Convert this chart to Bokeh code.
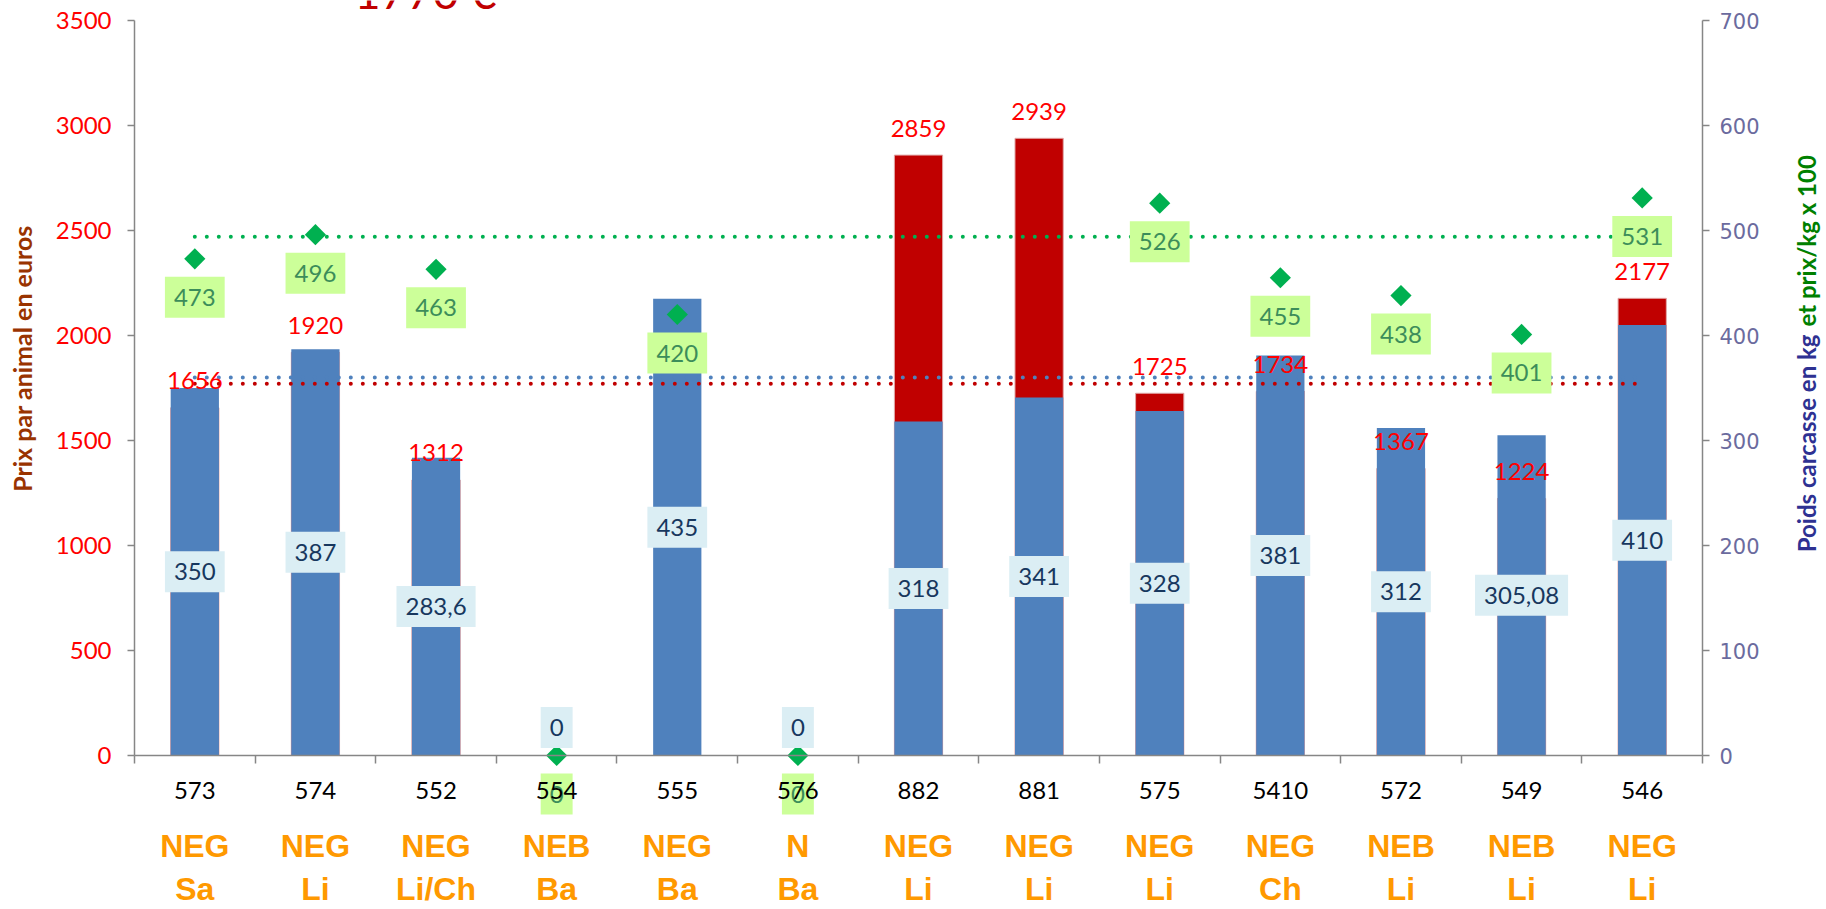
import math
from bokeh.plotting import figure
from bokeh.models import Range1d, LinearAxis, FixedTicker, Label, ColumnDataSource
from bokeh.core.properties import value
from bokeh.embed import file_html
from bokeh.resources import INLINE

# ---------------- data ----------------
codes = ["573", "574", "552", "554", "555", "576", "882", "881", "575", "5410", "572", "549", "546"]
breed_line1 = ["NEG", "NEG", "NEG", "NEB", "NEG", "N", "NEG", "NEG", "NEG", "NEG", "NEB", "NEB", "NEG"]
breed_line2 = ["Sa", "Li", "Li/Ch", "Ba", "Ba", "Ba", "Li", "Li", "Li", "Ch", "Li", "Li", "Li"]
carcass_weight = [350, 387, 283.6, 0, 435, 0, 318, 341, 328, 381, 312, 305.08, 410]
price_animal = [1656, 1920, 1312, None, None, None, 2859, 2939, 1725, 1734, 1367, 1224, 2177]
price_per_kg_x100 = [473, 496, 463, 0, 420, 0, None, None, 526, 455, 438, 401, 531]
mean_price = 1770
mean_weight = 360
mean_price_per_kg = 494
left_ticks = [0, 500, 1000, 1500, 2000, 2500, 3000, 3500]
right_ticks = [0, 100, 200, 300, 400, 500, 600, 700]
LEFT_MAX, RIGHT_MAX = 3500, 700

# ---------------- layout (canvas pixels) ----------------
W, H = 1826, 909
PL, PR, PT, PB = 134, 1702, 20, 755      # plotting area of the value axes
N = len(codes)
PX = (PR - PL) / N
PY = (PB - PT) / LEFT_MAX
PYR = (PB - PT) / RIGHT_MAX
FONT = "Lato"


def xd(cx):
    return (cx - PL) / PX


def yd(cy):
    return (PB - cy) / PY


def ydr(cy):
    return (PB - cy) / PYR


nan = float("nan")
xs = [i + 0.5 for i in range(N)]
src = ColumnDataSource(dict(
    x=xs,
    weight=carcass_weight,
    price=[nan if v is None else v for v in price_animal],
    ppk=[nan if v is None else v for v in price_per_kg_x100],
))

p = figure(width=W, height=H, output_backend="svg", toolbar_location=None,
           x_range=Range1d(xd(0), xd(W)), y_range=Range1d(yd(H), yd(0)),
           min_border_left=0, min_border_right=0, min_border_top=0, min_border_bottom=0)
p.extra_y_ranges = {"right": Range1d(ydr(H), ydr(0))}
p.xgrid.visible = False
p.ygrid.visible = False
p.outline_line_color = None
p.background_fill_color = "white"
p.border_fill_color = "white"

AX = "#868686"

# x axis: labels at category centres, marks at boundaries
xa = p.xaxis[0]
xa.fixed_location = 0
xa.bounds = (0, N)
xa.ticker = FixedTicker(ticks=xs, minor_ticks=list(range(N + 1)))
xa.major_label_overrides = {x: c for x, c in zip(xs, codes)}
xa.major_tick_out = 0
xa.major_tick_in = 0
xa.minor_tick_out = 8
xa.minor_tick_in = 0
xa.axis_line_color = AX
xa.axis_line_width = 1.5
xa.minor_tick_line_color = AX
xa.minor_tick_line_width = 1.5
xa.major_label_text_font = FONT
xa.major_label_text_font_size = "24px"
xa.major_label_text_color = "black"
xa.major_label_standoff = 18

# left axis
ya = p.yaxis[0]
ya.fixed_location = 0
ya.bounds = (0, LEFT_MAX)
ya.ticker = FixedTicker(ticks=left_ticks)
ya.major_tick_out = 7
ya.major_tick_in = 0
ya.minor_tick_out = 0
ya.minor_tick_in = 0
ya.axis_line_color = AX
ya.axis_line_width = 1.5
ya.major_tick_line_color = AX
ya.major_tick_line_width = 1.5
ya.major_label_text_font = FONT
ya.major_label_text_font_size = "24px"
ya.major_label_text_color = "#ff0000"
ya.major_label_standoff = 16

# right axis
ra = LinearAxis(y_range_name="right", ticker=FixedTicker(ticks=right_ticks),
                fixed_location=N, bounds=(0, RIGHT_MAX))
ra.major_tick_out = 7
ra.major_tick_in = 0
ra.minor_tick_out = 0
ra.minor_tick_in = 0
ra.axis_line_color = AX
ra.axis_line_width = 1.5
ra.major_tick_line_color = AX
ra.major_tick_line_width = 1.5
ra.major_label_text_font = "DejaVu Sans"
ra.major_label_text_font_size = "21px"
ra.major_label_text_color = "#6b6b9e"
ra.major_label_standoff = 10
p.add_layout(ra, "right")

# bars
p.vbar(x="x", top="price", width=0.4, source=src,
       fill_color="#c00000", line_color="#e0a8a8", line_width=1)
p.vbar(x="x", top="weight", width=0.4, source=src, y_range_name="right",
       fill_color="#4f81bd", line_color=None)

# mean lines (dotted)
line_x = [xs[0], xs[-1]]
p.line(x=line_x, y=[mean_weight] * 2, y_range_name="right", line_color="#4f81bd",
       line_width=4, line_dash="0 12", line_cap="round")
p.line(x=line_x, y=[mean_price] * 2, line_color="#c00000",
       line_width=4, line_dash="0 12", line_cap="round")
p.line(x=line_x, y=[mean_price_per_kg] * 2, y_range_name="right", line_color="#00b050",
       line_width=4, line_dash="0 12", line_cap="round")

# price per kg markers
p.scatter(x="x", y="ppk", source=src, y_range_name="right", marker="square",
          angle=math.pi / 4, size=15, fill_color="#00b050", line_color=None)

# red price labels
for x, v in zip(xs, price_animal):
    if v is None:
        continue
    p.add_layout(Label(x=x, y=v + 27 / PY, text=str(v), text_align="center",
                       text_baseline="middle", text_font=FONT, text_font_size="24px",
                       text_color="#ff0000"))

# weight labels (boxes)
for x, v in zip(xs, carcass_weight):
    t = f"{v:g}".replace(".", ",")
    p.add_layout(Label(x=x, y=max(v / 2.0, 28 / PYR), y_range_name="right", text=t,
                       text_align="center", text_baseline="middle", text_font=FONT,
                       text_font_size="24px", text_color="#17375e",
                       background_fill_color="#dbeef4", padding=(9, 12)))

# price/kg labels (boxes)
for x, v in zip(xs, price_per_kg_x100):
    if v is None:
        continue
    p.add_layout(Label(x=x, y=v - 38.5 / PYR, y_range_name="right", text=str(v),
                       text_align="center", text_baseline="middle", text_font=FONT,
                       text_font_size="24px", text_color="#3c8d5a",
                       background_fill_color="#ccff99", padding=(9, 12),
                       level="underlay" if v == 0 else "annotation"))

# breed labels under the axis
p.text(x=xs, y=[yd(845)] * N, text=breed_line1, text_align="center", text_baseline="middle",
       text_font=value("Liberation Sans"), text_font_style="bold", text_font_size="32px",
       text_color="#ff9900")
p.text(x=xs, y=[yd(888)] * N, text=breed_line2, text_align="center", text_baseline="middle",
       text_font=value("Liberation Sans"), text_font_style="bold", text_font_size="32px",
       text_color="#ff9900")

# axis titles
p.add_layout(Label(x=xd(21), y=yd(358), text="Prix par animal en euros", angle=math.pi / 2,
                   text_align="center", text_baseline="middle", text_font=FONT,
                   text_font_style="bold", text_font_size="25px", text_color="#993300"))
p.add_layout(Label(x=xd(1806), y=yd(334), text="Poids carcasse en kg", angle=math.pi / 2,
                   text_align="right", text_baseline="middle", text_font=FONT,
                   text_font_style="bold", text_font_size="24px", text_color="#2e3192"))
p.add_layout(Label(x=xd(1806), y=yd(326), text="et prix/kg x 100", angle=math.pi / 2,
                   text_align="left", text_baseline="middle", text_font=FONT,
                   text_font_style="bold", text_font_size="24px", text_color="#008000"))

# title, mostly above the page top
p.add_layout(Label(x=xd(425), y=yd(-9), text=f"{mean_price} €", text_align="center",
                   text_baseline="alphabetic", text_font=FONT, text_font_size="45px",
                   text_color="#c00000"))

with open("out.html", "w", encoding="utf-8") as f:
    f.write(file_html(p, INLINE))
